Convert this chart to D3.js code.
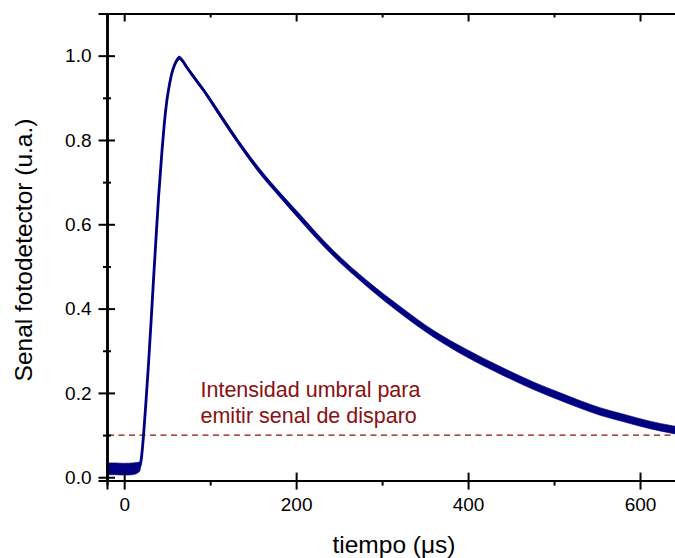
<!DOCTYPE html>
<html>
<head>
<meta charset="utf-8">
<script src="https://cdn.jsdelivr.net/npm/d3@7"></script>
<style>
  html, body { margin: 0; padding: 0; background: #fff; }
  svg { display: block; font-family: "Liberation Sans", Arial, sans-serif; }
</style>
</head>
<body>
<svg id="chart" width="675" height="558"></svg>
<script>
// Photodetector signal after the pulse (time in µs, signal in arbitrary units)
const timeUs = [-20, -10, 0, 10, 18, 20, 22.5, 25, 28, 31, 34, 36.8, 40, 43.8, 46.5, 49.6,
  52.5, 55.4, 58, 60.5, 64, 67, 72, 80, 92, 111.6, 131, 158, 181, 204.7, 224, 243.4, 282,
  321, 360, 398.5, 437, 476, 505, 530, 553.5, 580, 611.6, 635, 650];
const signal = [0.020, 0.020, 0.019, 0.020, 0.025, 0.045, 0.100, 0.170, 0.260, 0.360, 0.465,
  0.560, 0.665, 0.770, 0.835, 0.893, 0.930, 0.958, 0.975, 0.986, 0.995, 0.990, 0.975, 0.952,
  0.919, 0.859, 0.800, 0.725, 0.670, 0.616, 0.572, 0.531, 0.460, 0.397, 0.340, 0.294, 0.254,
  0.217, 0.193, 0.173, 0.156, 0.141, 0.124, 0.114, 0.108];
// half-width of the noise band around the signal
const noise = [0.014, 0.014, 0.014, 0.014, 0.011, 0.004, 0.002, 0.002, 0.002, 0.002, 0.002,
  0.002, 0.002, 0.002, 0.002, 0.003, 0.003, 0.003, 0.004, 0.004, 0.004, 0.004, 0.004, 0.004,
  0.004, 0.005, 0.005, 0.006, 0.006, 0.007, 0.007, 0.007, 0.007, 0.008, 0.008, 0.009, 0.009,
  0.009, 0.009, 0.009, 0.009, 0.009, 0.009, 0.009, 0.009];

const threshold = 0.1;
const annotationLines = ["Intensidad umbral para", "emitir senal de disparo"];

const xMajor = [0, 200, 400, 600];
const xMinor = [100, 300, 500];
const yMajor = [0, 0.2, 0.4, 0.6, 0.8, 1.0];
const yMinor = [0.1, 0.3, 0.5, 0.7, 0.9];

const xTitle = "tiempo (μs)";
const yTitle = "Senal fotodetector (u.a.)";

const svg = d3.select("#chart");
const mLeft = 107, mRight = 683, mTop = 13.5, mBottom = 480.6;

const x = d3.scaleLinear().domain([-20, 650]).range([mLeft, mRight]);
const y = d3.scaleLinear().domain([-0.008, 1.1]).range([mBottom, mTop]);

const data = timeUs.map((t, i) => ({ t, v: signal[i], n: noise[i] }));
const navy = "#000080";
const red = "#8b0f0f";

// threshold
svg.append("line")
  .attr("x1", mLeft + 1).attr("x2", mRight)
  .attr("y1", y(threshold)).attr("y2", y(threshold))
  .attr("stroke", red).attr("stroke-width", 1.2)
  .attr("stroke-dasharray", "6,4.5");

// noise band + trace
const plot = svg.append("g");
plot.append("path")
  .datum(data)
  .attr("d", d3.area().curve(d3.curveMonotoneX)
    .x(d => x(d.t)).y0(d => y(d.v - d.n)).y1(d => y(d.v + d.n)))
  .attr("fill", navy).attr("stroke", navy).attr("stroke-width", 0.6);
plot.append("path")
  .datum(data)
  .attr("d", d3.line().curve(d3.curveMonotoneX).x(d => x(d.t)).y(d => y(d.v)))
  .attr("fill", "none").attr("stroke", navy).attr("stroke-width", 2.8);

// axes
function addAxis(axis, tx, ty) {
  return svg.append("g").attr("transform", `translate(${tx},${ty})`).call(axis);
}
addAxis(d3.axisBottom(x).tickValues(xMajor).tickSize(9).tickPadding(8).tickFormat(d3.format("d")), 0, mBottom);
addAxis(d3.axisBottom(x).tickValues(xMinor).tickSize(5).tickFormat(""), 0, mBottom);
addAxis(d3.axisTop(x).tickValues(xMajor).tickSize(8).tickFormat(""), 0, mBottom);

addAxis(d3.axisLeft(y).tickValues(yMajor).tickSize(8.5).tickPadding(7).tickFormat(d3.format(".1f")), mLeft, 0);
addAxis(d3.axisLeft(y).tickValues(yMinor).tickSize(4).tickFormat(""), mLeft, 0);
addAxis(d3.axisRight(y).tickValues(yMajor).tickSize(8).tickFormat(""), mLeft, 0);
addAxis(d3.axisRight(y).tickValues(yMinor).tickSize(4).tickFormat(""), mLeft, 0);

addAxis(d3.axisBottom(x).tickValues(xMajor).tickSize(8).tickFormat(""), 0, mTop);
addAxis(d3.axisBottom(x).tickValues(xMinor).tickSize(4).tickFormat(""), 0, mTop);
addAxis(d3.axisLeft(y).tickValues(yMajor).tickSize(8).tickFormat(""), mRight, 0);
addAxis(d3.axisLeft(y).tickValues(yMinor).tickSize(4).tickFormat(""), mRight, 0);

svg.selectAll(".domain").attr("stroke", "#000").attr("stroke-width", 2);
svg.selectAll(".tick line").attr("stroke", "#000").attr("stroke-width", 2);
svg.selectAll(".tick text").attr("font-size", "19px")
  .attr("font-family", "'Liberation Sans', Arial, sans-serif").attr("fill", "#000");

// axis titles
svg.append("text")
  .attr("x", 394).attr("y", 553)
  .attr("text-anchor", "middle").attr("font-size", "24.5px").text(xTitle);
svg.append("text")
  .attr("transform", "translate(32,250) rotate(-90)")
  .attr("text-anchor", "middle").attr("font-size", "24.5px").text(yTitle);

// annotation
const ann = svg.append("text").attr("fill", red).attr("font-size", "21.5px");
annotationLines.forEach((s, i) => {
  ann.append("tspan").attr("x", 200.5).attr("y", 397.3 + i * 26).text(s);
});
</script>
</body>
</html>
